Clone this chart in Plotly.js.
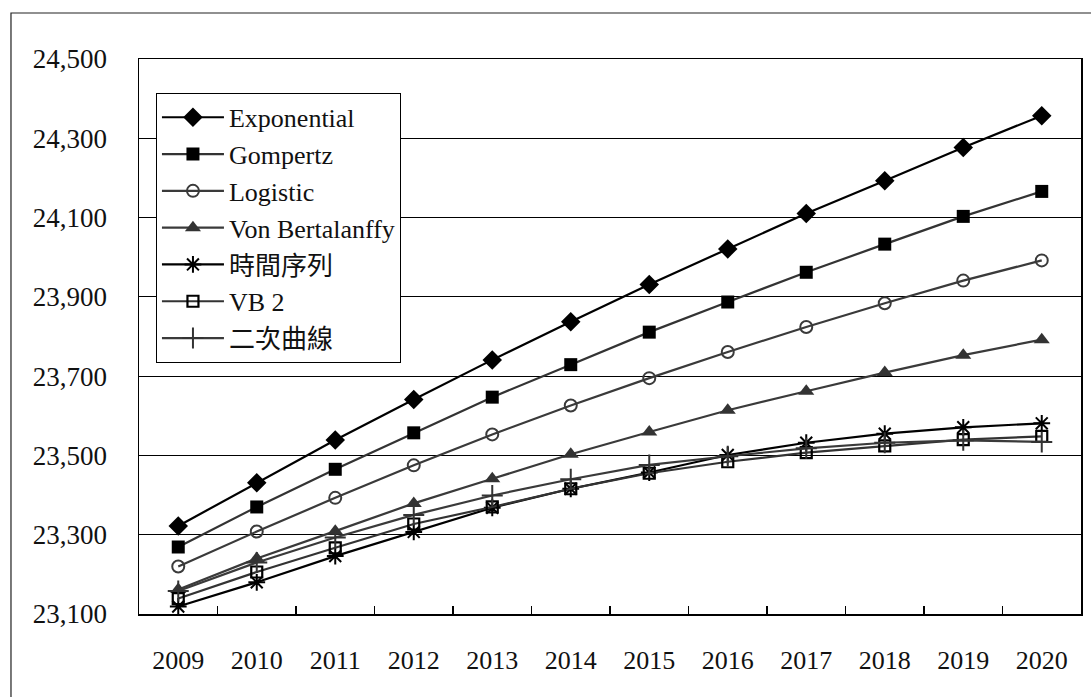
<!DOCTYPE html>
<html>
<head>
<meta charset="utf-8">
<script src="https://cdn.plot.ly/plotly-3.0.1.min.js"></script>
<style>html,body{margin:0;padding:0;background:#fff;}#chart{width:1091px;height:697px;}</style>
</head>
<body>
<div id="chart"></div>
<script>
const years = ['2009','2010','2011','2012','2013','2014','2015','2016','2017','2018','2019','2020'];
const seriesNames = ['Exponential','Gompertz','Logistic','Von Bertalanffy','時間序列','VB 2','二次曲線'];
const exponential = [23322, 23431, 23539, 23641, 23741, 23837, 23931, 24021, 24110, 24193, 24277, 24357];
const gompertz    = [23269, 23370, 23465, 23557, 23647, 23729, 23811, 23887, 23962, 24033, 24103, 24166];
const logistic    = [23220, 23308, 23393, 23475, 23553, 23626, 23695, 23761, 23824, 23884, 23941, 23992];
const vonBert     = [23162, 23240, 23309, 23379, 23441, 23503, 23559, 23614, 23662, 23709, 23753, 23792];
const timeSeries  = [23119, 23180, 23246, 23307, 23368, 23416, 23457, 23501, 23532, 23555, 23571, 23581];
const vb2         = [23139, 23206, 23267, 23327, 23370, 23416, 23455, 23484, 23507, 23524, 23540, 23548];
const quadratic   = [23158, 23230, 23293, 23350, 23399, 23440, 23476, 23498, 23518, 23532, 23538, 23534];
const yTicks = [23100, 23300, 23500, 23700, 23900, 24100, 24300, 24500];

const FONT = 'Liberation Serif, "Times New Roman", "Noto Sans CJK TC", serif';
function tr(name, y, lineColor, marker) {
  return {type:'scatter', mode:'lines+markers', name:name, x:years, y:y,
    line:{color:lineColor, width:2.2}, marker:marker};
}
const traces = [
  tr(seriesNames[0], exponential, '#000000', {symbol:'diamond', size:15, color:'#000000'}),
  tr(seriesNames[1], gompertz, '#333333', {symbol:'square', size:13, color:'#000000'}),
  tr(seriesNames[2], logistic, '#3a3a3a', {symbol:'circle-open', size:12, color:'#3a3a3a', line:{width:2, color:'#3a3a3a'}}),
  tr(seriesNames[3], vonBert, '#3a3a3a', {symbol:'triangle-up', size:14, color:'#333333'}),
  tr(seriesNames[4], timeSeries, '#000000', {symbol:'asterisk-open', size:14, color:'#000000', line:{width:2, color:'#000000'}}),
  tr(seriesNames[5], vb2, '#333333', {symbol:'square-open', size:11, color:'#000000', line:{width:2.2, color:'#000000'}}),
  tr(seriesNames[6], quadratic, '#3a3a3a', {symbol:'cross-thin-open', size:15, color:'#333333', line:{width:2, color:'#333333'}})
];

const layout = {
  width:1091, height:697,
  paper_bgcolor:'#ffffff', plot_bgcolor:'#ffffff',
  margin:{l:139, r:10, t:59, b:83},
  font:{family:FONT, size:26, color:'#111111'},
  showlegend:true,
  legend:{x:0.018, y:0.939, xanchor:'left', yanchor:'top', bgcolor:'#ffffff',
    bordercolor:'#000000', borderwidth:1, font:{family:FONT, size:26, color:'#111111'},
    itemwidth:62, tracegroupgap:0},
  xaxis:{type:'category', range:[-0.5, 11.5], tickvals:years, ticktext:years, showgrid:false, zeroline:false,
    showline:true, linecolor:'#000000', linewidth:1.5, mirror:true,
    ticks:'inside', ticklen:8, tickcolor:'#000000', tickwidth:1.2, tickson:'boundaries',
    tickfont:{family:FONT, size:26, color:'#111111'}, ticklabelstandoff:22, fixedrange:true},
  yaxis:{range:[23100, 24500], tickvals:yTicks, tickformat:',', showgrid:true, gridcolor:'#000000', gridwidth:1,
    zeroline:false, showline:true, linecolor:'#000000', linewidth:1.5, mirror:true, ticks:'',
    tickfont:{family:FONT, size:27, color:'#111111'}, ticklabelstandoff:25, fixedrange:true},
  shapes:[{type:'rect', xref:'paper', yref:'paper', x0:-0.1359, x1:1.06, y0:-0.25, y1:1.0829,
    line:{color:'#222222', width:1.2}, fillcolor:'rgba(0,0,0,0)', layer:'below'}]
};
Plotly.newPlot('chart', traces, layout, {displayModeBar:false, staticPlot:true});
</script>
</body>
</html>
